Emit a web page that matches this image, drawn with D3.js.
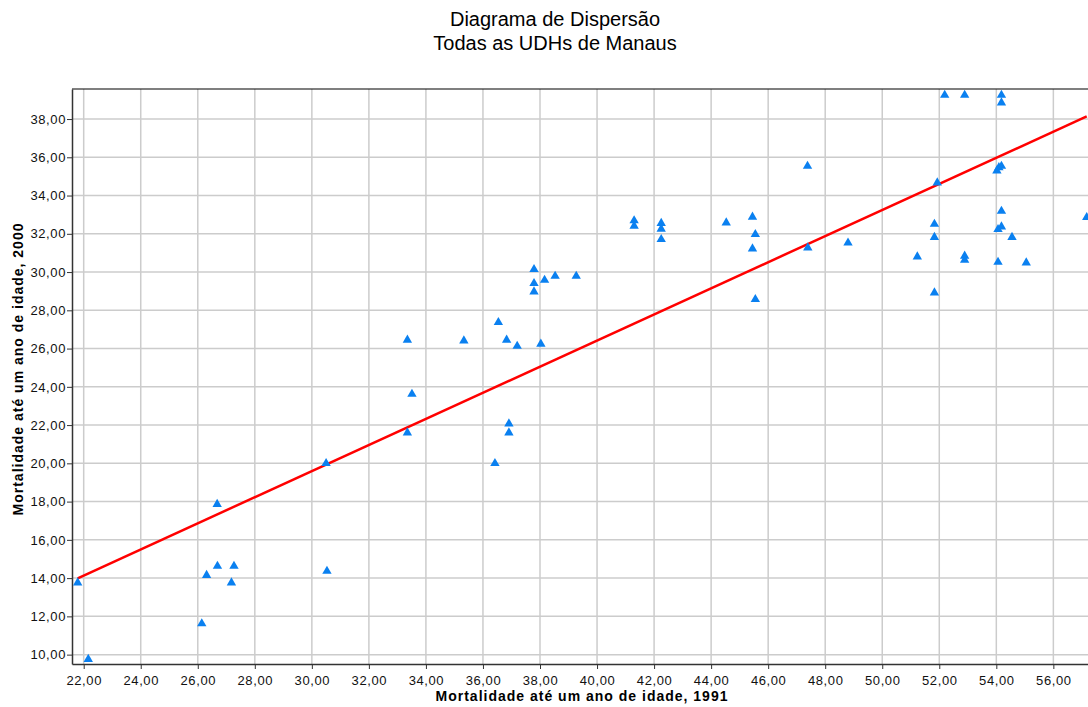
<!DOCTYPE html>
<html>
<head>
<meta charset="utf-8">
<script src="https://cdn.jsdelivr.net/npm/d3@7"></script>
<style>
  body { margin: 0; background: #fff; }
  svg { display: block; font-family: "Liberation Sans", Arial, sans-serif; }
</style>
</head>
<body>
<div id="chart"></div>
<script>
// Mortalidade ate um ano de idade, 1991 (x) e 2000 (y) por UDH
var mort1991 = [21.79, 22.16, 26.14, 26.31, 26.69, 27.27, 27.18, 30.53, 26.68, 30.50,
  33.35, 33.51, 33.35, 35.33, 36.54, 36.83, 37.20, 38.03, 36.42, 36.91, 36.91,
  37.79, 38.16, 38.53, 39.27, 37.79, 37.79,
  41.30, 41.30, 42.25, 42.25, 42.25, 44.53, 45.45, 45.55, 45.45, 47.39, 48.80, 45.55, 47.38,
  52.19, 52.89, 54.18, 54.18, 54.09, 54.18, 54.02, 51.93, 54.18, 54.18, 54.06, 54.55,
  51.83, 51.83, 51.23, 52.89, 52.89, 54.06, 55.05, 51.83, 57.17];
var mort2000 = [13.76, 9.76, 11.62, 14.15, 14.63, 14.63, 13.76, 14.37, 17.86, 20.00,
  26.45, 23.62, 21.60, 26.41, 27.37, 26.45, 26.13, 26.24, 20.00, 22.07, 21.60,
  30.14, 29.58, 29.79, 29.79, 29.41, 28.97,
  32.69, 32.41, 32.55, 32.25, 31.71, 32.58, 32.88, 31.97, 31.22, 31.27, 31.53, 28.57, 35.54,
  39.25, 39.25, 39.25, 38.85, 35.47, 35.54, 35.30, 34.67, 33.19, 32.37, 32.23, 31.82,
  32.51, 31.82, 30.80, 30.84, 30.63, 30.52, 30.49, 28.92, 32.86];

var xTicks = [22, 24, 26, 28, 30, 32, 34, 36, 38, 40, 42, 44, 46, 48, 50, 52, 54, 56];
var yTicks = [10, 12, 14, 16, 18, 20, 22, 24, 26, 28, 30, 32, 34, 36, 38];

// reta de ajuste
var fitIntercept = -0.88;
var fitSlope = 0.6825;

var W = 1088, H = 707;
var margin = {top: 89, left: 72, bottom: 43};
var plotRight = 1090;

var x = d3.scaleLinear().domain([21.59, 57.285]).range([margin.left, plotRight]);
var y = d3.scaleLinear().domain([9.51, 39.57]).range([H - margin.bottom, margin.top]);

var fmt = function(v) { return d3.format(".2f")(v).replace(".", ","); };

var svg = d3.select('#chart').append('svg')
  .attr('width', W)
  .attr('height', H);

// titulo
svg.append('text')
  .attr('x', 555).attr('y', 26)
  .attr('text-anchor', 'middle')
  .style('font-size', '20px')
  .attr('fill', '#000')
  .text('Diagrama de Dispersão');
svg.append('text')
  .attr('x', 555).attr('y', 50)
  .attr('text-anchor', 'middle')
  .style('font-size', '20px')
  .attr('fill', '#000')
  .text('Todas as UDHs de Manaus');

// grade
var grid = svg.append('g').attr('class', 'grid');
grid.selectAll('.gx').data(xTicks).enter().append('line')
  .attr('x1', function(d) { return x(d); })
  .attr('x2', function(d) { return x(d); })
  .attr('y1', y.range()[1]).attr('y2', y.range()[0])
  .attr('stroke', '#cccccc').attr('stroke-width', 1.5);
grid.selectAll('.gy').data(yTicks).enter().append('line')
  .attr('y1', function(d) { return y(d); })
  .attr('y2', function(d) { return y(d); })
  .attr('x1', margin.left).attr('x2', plotRight)
  .attr('stroke', '#cccccc').attr('stroke-width', 1.5);

// moldura superior
svg.append('line')
  .attr('x1', margin.left).attr('x2', plotRight)
  .attr('y1', margin.top).attr('y2', margin.top)
  .attr('stroke', '#000').attr('stroke-width', 1.2);

// eixos
var xAxis = svg.append('g')
  .attr('transform', 'translate(0,' + (H - margin.bottom) + ')')
  .call(d3.axisBottom(x).tickValues(xTicks).tickFormat(fmt).tickSize(5).tickSizeOuter(0));
var yAxis = svg.append('g')
  .attr('transform', 'translate(' + margin.left + ',0)')
  .call(d3.axisLeft(y).tickValues(yTicks).tickFormat(fmt).tickSize(5).tickSizeOuter(0));

[xAxis, yAxis].forEach(function(a) {
  a.select('.domain').attr('stroke', '#333').attr('stroke-width', 1.5);
  a.selectAll('.tick line').attr('stroke', '#333');
  a.selectAll('.tick text')
    .attr('fill', '#111')
    .style('font-family', '"Liberation Sans", Arial, sans-serif')
    .style('font-size', '13px')
    .style('letter-spacing', '0.6px');
});
xAxis.selectAll('.tick text').attr('dy', '1.0em');
yAxis.selectAll('.tick text').attr('x', -6);

// reta de regressao
var xMin = d3.min(mort1991), xMax = d3.max(mort1991);
svg.append('line')
  .attr('x1', x(xMin)).attr('y1', y(fitIntercept + fitSlope * xMin))
  .attr('x2', x(xMax)).attr('y2', y(fitIntercept + fitSlope * xMax))
  .attr('stroke', '#ff0000').attr('stroke-width', 2.5);

// pontos
var tri = d3.symbol().type(d3.symbolTriangle).size(38);
svg.selectAll('.pt')
  .data(d3.range(mort1991.length))
  .enter().append('path')
  .attr('class', 'pt')
  .attr('d', tri)
  .attr('transform', function(i) { return 'translate(' + x(mort1991[i]) + ',' + y(mort2000[i]) + ')'; })
  .attr('fill', '#0a80f0');

// titulos dos eixos
svg.append('text')
  .attr('x', 582).attr('y', 701)
  .attr('text-anchor', 'middle')
  .style('font-size', '14px')
  .style('letter-spacing', '1px')
  .style('font-weight', 'bold')
  .text('Mortalidade até um ano de idade, 1991');
svg.append('text')
  .attr('transform', 'translate(23,369) rotate(-90)')
  .attr('text-anchor', 'middle')
  .style('font-size', '14px')
  .style('letter-spacing', '1px')
  .style('font-weight', 'bold')
  .text('Mortalidade até um ano de idade, 2000');
</script>
</body>
</html>
